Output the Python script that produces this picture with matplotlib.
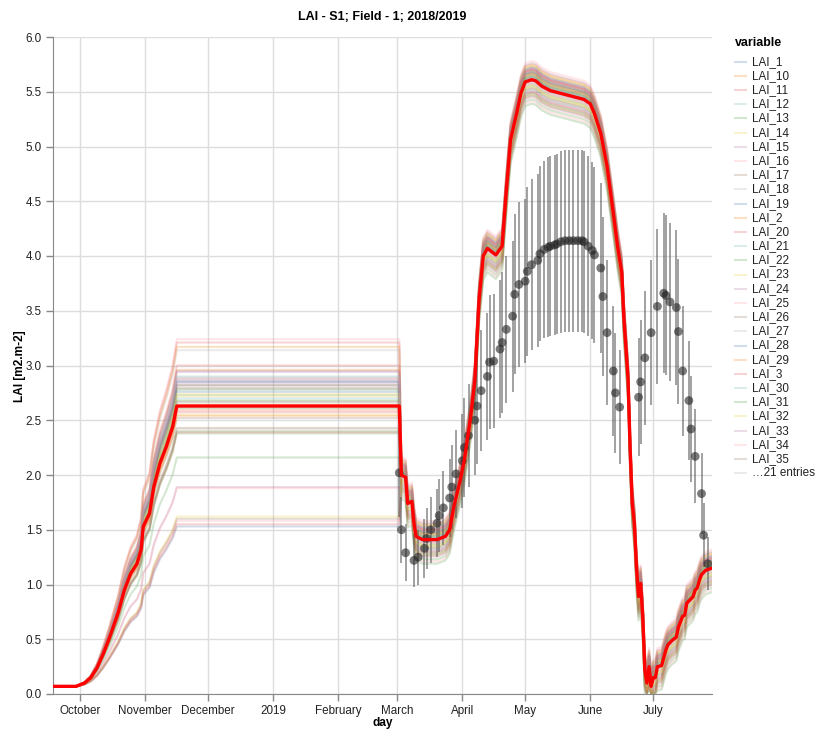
import matplotlib
matplotlib.use("Agg")
import matplotlib.pyplot as plt
import matplotlib.dates as mdates
from matplotlib.lines import Line2D
import numpy as np
import pandas as pd

plt.rcParams['font.family'] = ['Liberation Sans', 'DejaVu Sans']

# red line: ensemble median
mean_dates = ['2018-09-18', '2018-09-29', '2018-10-03', '2018-10-06', '2018-10-09',
              '2018-10-12', '2018-10-15', '2018-10-19', '2018-10-22', '2018-10-25',
              '2018-10-28', '2018-10-30', '2018-10-31', '2018-11-03', '2018-11-05',
              '2018-11-08', '2018-11-11', '2018-11-14', '2018-11-16',
              '2019-03-02', '2019-03-03', '2019-03-05', '2019-03-06', '2019-03-08',
              '2019-03-09', '2019-03-10', '2019-03-13', '2019-03-20', '2019-03-24',
              '2019-03-26', '2019-03-28', '2019-03-31', '2019-04-02', '2019-04-05',
              '2019-04-07', '2019-04-09', '2019-04-11', '2019-04-13', '2019-04-17',
              '2019-04-20', '2019-04-22', '2019-04-24', '2019-04-27', '2019-04-29',
              '2019-05-01', '2019-05-04', '2019-05-06', '2019-05-09', '2019-05-13',
              '2019-05-21', '2019-05-29', '2019-06-01', '2019-06-03', '2019-06-06',
              '2019-06-09', '2019-06-12', '2019-06-14', '2019-06-16', '2019-06-17',
              '2019-06-19', '2019-06-20', '2019-06-21', '2019-06-22', '2019-06-23',
              '2019-06-24', '2019-06-25', '2019-06-26', '2019-06-27', '2019-06-28',
              '2019-06-29', '2019-06-30', '2019-07-01', '2019-07-02', '2019-07-03',
              '2019-07-05', '2019-07-07', '2019-07-08', '2019-07-10', '2019-07-12',
              '2019-07-13', '2019-07-15', '2019-07-16', '2019-07-17', '2019-07-20',
              '2019-07-21', '2019-07-22', '2019-07-23', '2019-07-24', '2019-07-26',
              '2019-07-29']
mean_lai = [0.07, 0.07, 0.10, 0.15, 0.24,
            0.37, 0.52, 0.74, 0.95, 1.10,
            1.19, 1.32, 1.53, 1.65, 1.89,
            2.11, 2.26, 2.44, 2.63,
            2.63, 2.00, 1.98, 1.74, 1.76,
            1.56, 1.44, 1.41, 1.41, 1.44,
            1.50, 1.71, 1.95, 2.14, 2.53,
            2.87, 3.60, 4.00, 4.07, 4.01,
            4.09, 4.60, 5.06, 5.31, 5.49,
            5.59, 5.61, 5.60, 5.55, 5.51,
            5.47, 5.43, 5.39, 5.30, 5.12,
            4.82, 4.39, 4.09, 3.85, 3.44,
            2.88, 2.23, 1.74, 1.56, 1.16,
            0.89, 1.01, 0.71, 0.22, 0.10,
            0.25, 0.07, 0.15, 0.15, 0.25,
            0.26, 0.40, 0.45, 0.49, 0.52,
            0.61, 0.71, 0.72, 0.83, 0.89,
            0.95, 0.97, 1.04, 1.09, 1.13,
            1.15]

# ensemble members LAI_1 .. LAI_50: winter plateau level and spring offset
member_winter = [2.85, 2.96, 3.00, 2.61, 2.16, 2.94, 2.87, 1.60, 2.89, 2.82,
                 3.21, 2.73, 2.40, 2.64, 1.89, 3.24, 2.43, 2.80, 1.53, 2.58,
                 2.70, 2.78, 2.55, 2.95, 1.88, 2.67, 2.42, 2.86, 3.17, 2.62,
                 2.38, 2.72, 2.84, 1.58, 2.52, 3.14, 2.76, 2.60, 2.39, 2.68,
                 1.62, 2.88, 2.57, 2.79, 2.66, 2.82, 2.54, 1.55, 2.90, 2.74]
member_shift = [0.05, 0.12, -0.08, 0.02, -0.22, 0.15, -0.03, -0.12, 0.08, 0.00,
                0.10, -0.05, -0.18, 0.04, -0.10, 0.17, 0.06, -0.02, -0.15, 0.09,
                0.03, -0.07, 0.13, 0.01, -0.20, 0.07, -0.04, 0.11, 0.14, -0.09,
                -0.13, 0.05, 0.02, -0.16, 0.08, 0.12, -0.01, 0.06, -0.11, 0.03,
                -0.06, 0.10, 0.00, 0.04, -0.03, 0.07, -0.14, 0.09, 0.01, -0.05]

# observed LAI with error bars
obs_dates = ['2019-03-02', '2019-03-03', '2019-03-05', '2019-03-09', '2019-03-11',
             '2019-03-14', '2019-03-15', '2019-03-17', '2019-03-20', '2019-03-21',
             '2019-03-23', '2019-03-26', '2019-03-27', '2019-03-29',
             '2019-04-01', '2019-04-02', '2019-04-04', '2019-04-07', '2019-04-08',
             '2019-04-10', '2019-04-13', '2019-04-14', '2019-04-16', '2019-04-19',
             '2019-04-20', '2019-04-22', '2019-04-25', '2019-04-26', '2019-04-28',
             '2019-05-01', '2019-05-02', '2019-05-04', '2019-05-07', '2019-05-08',
             '2019-05-10', '2019-05-12', '2019-05-13', '2019-05-15', '2019-05-16',
             '2019-05-18', '2019-05-20', '2019-05-22', '2019-05-24', '2019-05-26',
             '2019-05-28', '2019-05-29', '2019-05-31',
             '2019-06-02', '2019-06-03', '2019-06-06', '2019-06-07', '2019-06-09',
             '2019-06-12', '2019-06-13', '2019-06-15', '2019-06-24', '2019-06-25',
             '2019-06-27', '2019-06-30',
             '2019-07-03', '2019-07-06', '2019-07-07', '2019-07-09', '2019-07-12',
             '2019-07-13', '2019-07-15', '2019-07-18', '2019-07-19', '2019-07-21',
             '2019-07-24', '2019-07-25', '2019-07-27']
obs_lai = [2.02, 1.50, 1.29, 1.22, 1.25,
           1.33, 1.42, 1.50, 1.56, 1.63,
           1.70, 1.79, 1.89, 2.01,
           2.13, 2.25, 2.36, 2.50, 2.63,
           2.77, 2.90, 3.03, 3.04, 3.15,
           3.21, 3.33, 3.45, 3.65, 3.74,
           3.77, 3.86, 3.92, 3.96, 4.02,
           4.06, 4.08, 4.09, 4.10, 4.11,
           4.13, 4.14, 4.14, 4.14, 4.14,
           4.14, 4.13, 4.09,
           4.05, 4.01, 3.89, 3.63, 3.30,
           2.95, 2.75, 2.62, 2.71, 2.85,
           3.07, 3.30,
           3.54, 3.66, 3.64, 3.58, 3.53,
           3.31, 2.95, 2.68, 2.42, 2.17,
           1.83, 1.45, 1.19]
obs_err = [0.40, 0.30, 0.26, 0.24, 0.25,
           0.27, 0.28, 0.30, 0.31, 0.33,
           0.34, 0.36, 0.38, 0.40,
           0.43, 0.45, 0.47, 0.50, 0.53,
           0.55, 0.58, 0.61, 0.61, 0.63,
           0.64, 0.67, 0.69, 0.73, 0.75,
           0.75, 0.77, 0.78, 0.79, 0.80,
           0.81, 0.82, 0.82, 0.82, 0.82,
           0.83, 0.83, 0.83, 0.83, 0.83,
           0.83, 0.83, 0.82,
           0.81, 0.80, 0.78, 0.73, 0.66,
           0.59, 0.55, 0.52, 0.54, 0.57,
           0.61, 0.66,
           0.71, 0.73, 0.73, 0.72, 0.71,
           0.66, 0.59, 0.54, 0.48, 0.43,
           0.37, 0.29, 0.24]

tick_dates = ['2018-10-01', '2018-11-01', '2018-12-01', '2019-01-01', '2019-02-01',
              '2019-03-01', '2019-04-01', '2019-05-01', '2019-06-01', '2019-07-01']
tick_labels = ['October', 'November', 'December', '2019', 'February',
               'March', 'April', 'May', 'June', 'July']

palette = ['#4c78a8', '#f58518', '#e45756', '#72b7b2', '#54a24b',
           '#eeca3b', '#b279a2', '#ff9da6', '#9d755d', '#bab0ac']


def main():
    W, H = 818, 730
    fig = plt.figure(figsize=(W / 100, H / 100), dpi=100)
    ax = fig.add_axes([53 / W, 1 - 694 / H, 659 / W, 657 / H])

    t_mean = pd.to_datetime(mean_dates)
    mean = np.array(mean_lai)
    plateau = mean[18]
    winter = t_mean <= pd.Timestamp('2019-03-02')

    names = ['LAI_%d' % (i + 1) for i in range(len(member_winter))]
    order = sorted(names)
    for name in order:
        i = names.index(name)
        col = palette[order.index(name) % 10]
        autumn = 0.07 + (mean - 0.07) * (member_winter[i] - 0.07) / (plateau - 0.07)
        spring = np.clip(mean + member_shift[i], 0.01, None)
        y = np.where(winter, autumn, spring)
        ax.plot(t_mean, y, color=col, lw=1.5, alpha=0.25, zorder=2)

    t_obs = pd.to_datetime(obs_dates)
    lai = np.array(obs_lai)
    err = np.array(obs_err)
    ax.vlines(t_obs, lai - err, lai + err, color='#555555', lw=1.1, alpha=0.7, zorder=3)
    ax.scatter(t_obs, lai, s=40, color='#222222', alpha=0.6, edgecolors='none', zorder=4)

    ax.plot(t_mean, mean, color='#ff0000', lw=2.4, zorder=5)

    ax.set_xlim(pd.Timestamp('2018-09-18'), pd.Timestamp('2019-07-29'))
    ax.set_ylim(0, 6)
    ax.set_xticks(pd.to_datetime(tick_dates))
    ax.set_xticklabels(tick_labels)
    ax.set_yticks(np.arange(0, 6.01, 0.5))
    ax.yaxis.set_major_formatter(plt.FormatStrFormatter('%.1f'))

    ax.grid(color='#dddddd', lw=1, zorder=0)
    ax.set_axisbelow(True)
    for s in ['top', 'right']:
        ax.spines[s].set_visible(False)
    for s in ['left', 'bottom']:
        ax.spines[s].set_color('#888888')
    ax.tick_params(colors='#888888', length=5, width=1, labelsize=8.4,
                   labelcolor='#222222', pad=3)

    fig.text(382.5 / W, 1 - 17 / H, 'LAI - S1; Field - 1; 2018/2019',
             ha='center', va='center', fontsize=9, fontweight='bold')
    fig.text(382.5 / W, 1 - 723 / H, 'day', ha='center', va='center',
             fontsize=8.6, fontweight='bold')
    fig.text(20 / W, 1 - 366 / H, 'LAI [m2.m-2]', ha='center', va='center',
             rotation=90, fontsize=8.6, fontweight='bold')

    # legend
    fig.text(735 / W, 1 - 43 / H, 'variable', ha='left', va='center',
             fontsize=8.9, fontweight='bold')
    step = 14.19
    for k, name in enumerate(order[:29]):
        yy = 1 - (61.7 + k * step) / H
        fig.add_artist(Line2D([735 / W, 746 / W], [yy, yy], color=palette[k % 10],
                              lw=1.5, alpha=0.25))
        fig.text(752 / W, yy, name, ha='left', va='center', fontsize=8.4, color='#222222')
    yy = 1 - (61.7 + 29 * step) / H
    fig.add_artist(Line2D([735 / W, 746 / W], [yy, yy], color='#bab0ac', lw=1.5, alpha=0.25))
    fig.text(752 / W, yy, '\u202621 entries', ha='left', va='center', fontsize=8.4,
             color='#222222')

    fig.savefig('out.png', dpi=100)


if __name__ == '__main__':
    main()
